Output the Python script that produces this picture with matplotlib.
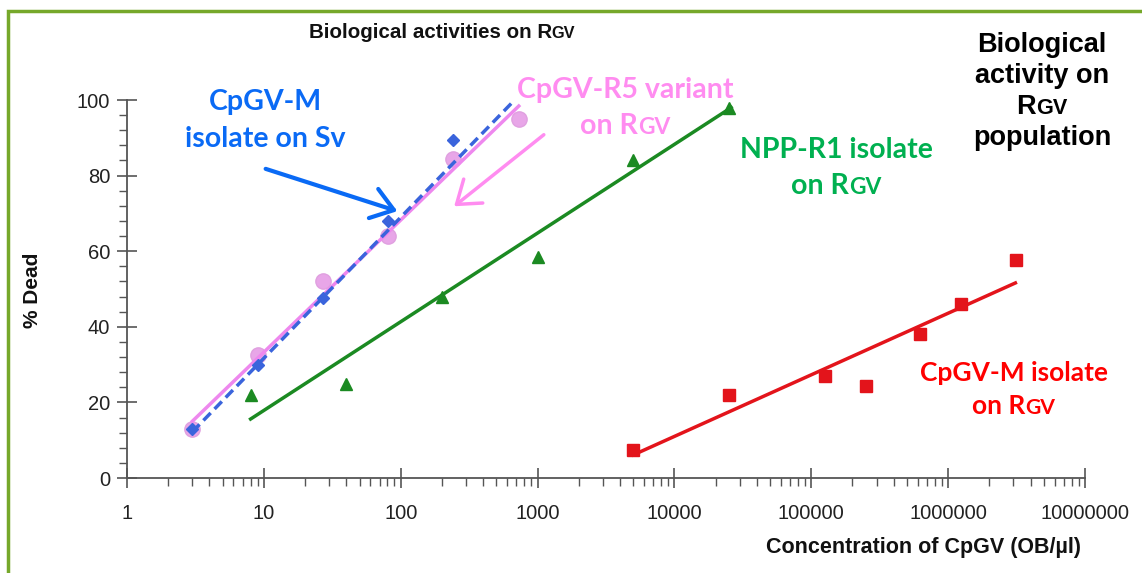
import matplotlib
matplotlib.use("Agg")
import matplotlib.pyplot as plt
import matplotlib.transforms as mtransforms
from matplotlib.patches import Rectangle, FancyArrowPatch
from matplotlib.ticker import LogLocator, MultipleLocator, FixedLocator, NullFormatter

# ---- data ----
sv_x = [3, 9, 27, 81, 243]
sv_y = [13, 30, 47.5, 68, 89.5]
r5_x = [3, 9, 27, 81, 243, 729]
r5_y = [13, 32.5, 52, 64, 84.5, 95]
npp_x = [8, 40, 200, 1000, 5000, 25000]
npp_y = [22, 25, 48, 58.5, 84, 98]
m_x = [5000, 25000, 125000, 250000, 625000, 1250000, 3125000]
m_y = [7.4, 22, 27, 24.3, 38, 46, 57.7]

# trend line end points (x, y)
sv_fit_x, sv_fit_y = [3, 680], [12.2, 100]
r5_fit_x, r5_fit_y = [3, 729], [15, 98.4]
npp_fit_x, npp_fit_y = [8, 26000], [15.6, 98]
m_fit_x, m_fit_y = [5000, 3100000], [6.1, 51.6]

x_ticks = [1, 10, 100, 1000, 10000, 100000, 1000000, 10000000]
x_ticklabels = ["1", "10", "100", "1000", "10000", "100000", "1000000", "10000000"]
y_ticks = [0, 20, 40, 60, 80, 100]

W, H = 1142, 573
fig = plt.figure(figsize=(W / 100, H / 100), dpi=100)
px = mtransforms.IdentityTransform()

# green frame
fig.add_artist(Rectangle((8, -20), W + 20, H + 20 - 11, transform=px, fill=False,
                         edgecolor="#76a82a", lw=2.5))

ax = fig.add_axes([127 / W, 1 - 478 / H, (1085 - 127) / W, (478 - 100) / H])
ax.set_xscale("log")
ax.set_xlim(1, 1e7)
ax.set_ylim(0, 100)
for s in ["top", "right"]:
    ax.spines[s].set_visible(False)
for s in ["left", "bottom"]:
    ax.spines[s].set_color("#555555")
    ax.spines[s].set_linewidth(1.3)

ax.xaxis.set_major_locator(FixedLocator(x_ticks))
ax.set_xticklabels(x_ticklabels)
ax.xaxis.set_minor_locator(LogLocator(base=10, subs=range(2, 10), numticks=20))
ax.xaxis.set_minor_formatter(NullFormatter())
ax.set_yticks(y_ticks)
ax.yaxis.set_minor_locator(MultipleLocator(4))
ax.tick_params(which="major", direction="inout", length=14, width=1.2, color="#555555",
               labelsize=14.5, labelcolor="#222222", pad=5)
ax.tick_params(which="minor", direction="out", length=6, width=1.0, color="#555555")
for lab in ax.get_xticklabels() + ax.get_yticklabels():
    lab.set_family("Liberation Sans")
ax.tick_params(axis="x", pad=12)

# points and trend lines
ax.plot(r5_fit_x, r5_fit_y, color="#ee88ee", lw=2.5, zorder=2)
ax.plot(sv_fit_x, sv_fit_y, color="#3a64dc", lw=2.5, ls=(0, (3, 1.6)), zorder=3)
ax.plot(npp_fit_x, npp_fit_y, color="#1b8a22", lw=2.5, zorder=2)
ax.plot(m_fit_x, m_fit_y, color="#e3141b", lw=2.5, zorder=2)
ax.plot(r5_x, r5_y, "o", color="#e8a6e8", ms=11, mec="#e0a0e0", zorder=1)
ax.plot(sv_x, sv_y, "D", color="#3a64dc", ms=6.5, zorder=4)
ax.plot(npp_x, npp_y, "^", color="#1b8a22", ms=9, zorder=4)
ax.plot(m_x, m_y, "s", color="#e3141b", ms=8.5, zorder=4)

fig.text(33, H - 290, "% Dead", transform=px, rotation=90, ha="center", va="center",
         fontsize=15, fontweight="bold", family="Liberation Sans", color="#111111")
fig.text(923, H - 548, "Concentration of CpGV (OB/µl)", transform=px, ha="center",
         va="center", fontsize=15.5, fontweight="bold", family="Liberation Sans",
         color="#111111")

renderer = fig.canvas.get_renderer()


def rich_line(cx, ytop, parts, size, color, family, weight="bold"):
    # draws one centred line made of (text, scale) parts on a shared baseline
    texts = []
    for txt, scale in parts:
        t = fig.text(0, 0, txt, transform=px, fontsize=size * scale, color=color,
                     family=family, fontweight=weight, va="baseline", ha="left")
        texts.append(t)
    widths = [t.get_window_extent(renderer).width for t in texts]
    x = cx - sum(widths) / 2
    for t, w in zip(texts, widths):
        t.set_position((x, H - ytop))
        x += w


# title
rich_line(442, 38, [("Biological activities on R", 1.0), ("GV", 0.8)], 14.8, "#111111",
          "Liberation Sans")

# big label at right
big = 19.5
rich_line(1042, 52, [("Biological", 1.0)], big, "black", "Liberation Sans")
rich_line(1042, 83, [("activity on", 1.0)], big, "black", "Liberation Sans")
rich_line(1042, 114, [("R", 1.0), ("GV", 0.8)], big, "black", "Liberation Sans")
rich_line(1042, 145, [("population", 1.0)], big, "black", "Liberation Sans")

blue, pink, green, red = "#0a6af5", "#ff8cf0", "#00b050", "#ff0000"
lab = 20.5
rich_line(265, 110, [("CpGV-M", 1.0)], lab, blue, "Lato")
rich_line(265, 147, [("isolate on Sv", 1.0)], lab, blue, "Lato")
rich_line(625, 98, [("CpGV-R5 variant", 1.0)], lab, pink, "Lato")
rich_line(625, 134, [("on R", 1.0), ("GV", 0.8)], lab, pink, "Lato")
rich_line(836, 158, [("NPP-R1 isolate", 1.0)], lab, green, "Lato")
rich_line(836, 194, [("on R", 1.0), ("GV", 0.8)], lab, green, "Lato")
rich_line(1014, 381, [("CpGV-M isolate", 1.0)], 19, red, "Lato")
rich_line(1014, 414, [("on R", 1.0), ("GV", 0.8)], 19, red, "Lato")

# arrows
fig.add_artist(FancyArrowPatch((263, H - 168), (400, H - 212), transform=px,
                               arrowstyle="->,head_length=7,head_width=5",
                               color=blue, lw=3, mutation_scale=2.2))
fig.add_artist(FancyArrowPatch((546, H - 133), (452, H - 208), transform=px,
                               arrowstyle="->,head_length=7,head_width=5",
                               color=pink, lw=2.5, mutation_scale=2.2))

fig.savefig("out.png", dpi=100)
